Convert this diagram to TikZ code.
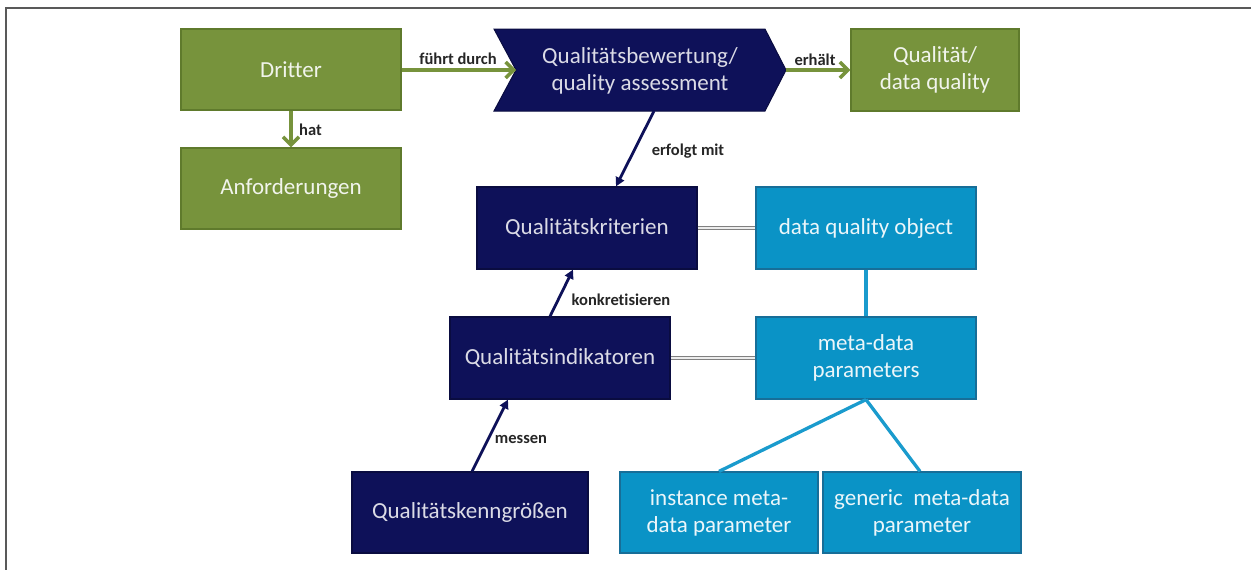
\documentclass[tikz,border=0pt]{standalone}
\usepackage{fontspec}
\setmainfont{Carlito}[Ligatures={NoCommon}]
\usetikzlibrary{arrows.meta,calc}
\definecolor{ogreen}{HTML}{77933C}
\definecolor{ogreenD}{HTML}{5F7A2C}
\definecolor{onavy}{HTML}{0E1159}
\definecolor{onavyD}{HTML}{0A0C40}
\definecolor{oblue}{HTML}{0A93C6}
\definecolor{oblueD}{HTML}{176E98}
\definecolor{oblueL}{HTML}{1A9BCD}
\definecolor{labtxt}{HTML}{262626}
\begin{document}
\begin{tikzpicture}[x=1pt,y=-1pt,
 box/.style={rectangle, inner sep=0pt, line width=1.2pt, align=center, font=\fontsize{23}{27}\selectfont},
 gbox/.style={box, fill=ogreen, draw=ogreenD, text=white!90!ogreen},
 nbox/.style={box, fill=onavy, draw=onavyD, text=white!85!onavy},
 bbox/.style={box, fill=oblue, draw=oblueD, text=white!92!oblue},
 lab/.style={font=\bfseries\fontsize{16.5}{18}\selectfont, text=labtxt, inner sep=0pt},
 garr/.style={draw=ogreen, line width=3.5pt, -{Straight Barb[length=8pt,width=16pt]}},
 narr/.style={draw=onavy, line width=2.8pt, -{Triangle[length=9pt,width=9pt]}},
 bline/.style={draw=oblueL, line width=3.3pt},
 dline/.style={draw=gray, double=white!85!gray, double distance=1.6pt, line width=1.3pt}
]
\fill[white] (0,0) rectangle (1251,570);
\useasboundingbox (0,0) rectangle (1251,570);
\draw[line width=1.5pt, draw=black!65] (1251,8) -- (6,8) -- (6,570);

% green boxes
\node[gbox, minimum width=220pt, minimum height=81pt] (dritter) at (291,69.5) {Dritter};
\node[gbox, minimum width=220pt, minimum height=81pt] (anf) at (291,188.5) {Anforderungen};
\node[gbox, minimum width=168pt, minimum height=82pt] (qual) at (935,70) {Qualität/\\data quality};

% chevron
\fill[onavy, draw=onavyD, line width=1pt] (494,29) -- (765,29) -- (786,70) -- (765,111) -- (494,111) -- (516,70) -- cycle;
\node[box, text=white!85!onavy] (chev) at (640,71) {Qualitätsbewertung/\\quality assessment};
\coordinate (chevL) at (516,70);
\coordinate (chevR) at (786,70);
\coordinate (chevB) at (654,111);

% navy boxes
\node[nbox, minimum width=220pt, minimum height=82pt] (qk) at (587,228) {Qualitätskriterien};
\node[nbox, minimum width=220pt, minimum height=82pt] (qi) at (560,358) {Qualitätsindikatoren};
\node[nbox, minimum width=236pt, minimum height=81pt] (qkg) at (470,512.5) {Qualitätskenngrößen};

% blue boxes
\node[bbox, minimum width=220pt, minimum height=82pt] (dqo) at (866,228) {data quality object};
\node[bbox, minimum width=220pt, minimum height=82pt] (meta) at (866,358) {meta-data\\parameters};
\node[bbox, minimum width=198pt, minimum height=81pt] (inst) at (719,512.5) {instance meta-\\data parameter};
\node[bbox, minimum width=198pt, minimum height=81pt] (gen) at (922,512.5) {generic\ \ meta-data\\parameter};

% green arrows
\draw[garr] (dritter.south) -- (anf.north);
\node[lab, anchor=west] (lhat) at (299,130) {hat};
\draw[garr] (dritter.east |- chevL) -- (chevL);
\node[lab] (lfd) at (458,59) {führt durch};
\draw[garr] (chevR) -- (qual.west);
\node[lab] (ler) at (815,60) {erhält};

% navy arrows
\draw[narr] (chevB) -- ([xshift=29pt]qk.north);
\node[lab] (lef) at (688,151) {erfolgt mit};
\draw[narr] ([xshift=-10pt]qi.north) -- ([xshift=-14pt]qk.south);
\node[lab] (lko) at (621,300) {konkretisieren};
\draw[narr] ([xshift=2pt]qkg.north) -- ([xshift=-52pt]qi.south);
\node[lab] (lme) at (521,439) {messen};

% double lines
\draw[dline] (qk.east) -- (dqo.west);
\draw[dline] (qi.east) -- (meta.west);

% blue lines
\draw[bline] (dqo.south) -- (meta.north);
\draw[bline] (meta.south) -- (inst.north);
\draw[bline] (meta.south) -- ([xshift=-2pt]gen.north);
\end{tikzpicture}
\end{document}
